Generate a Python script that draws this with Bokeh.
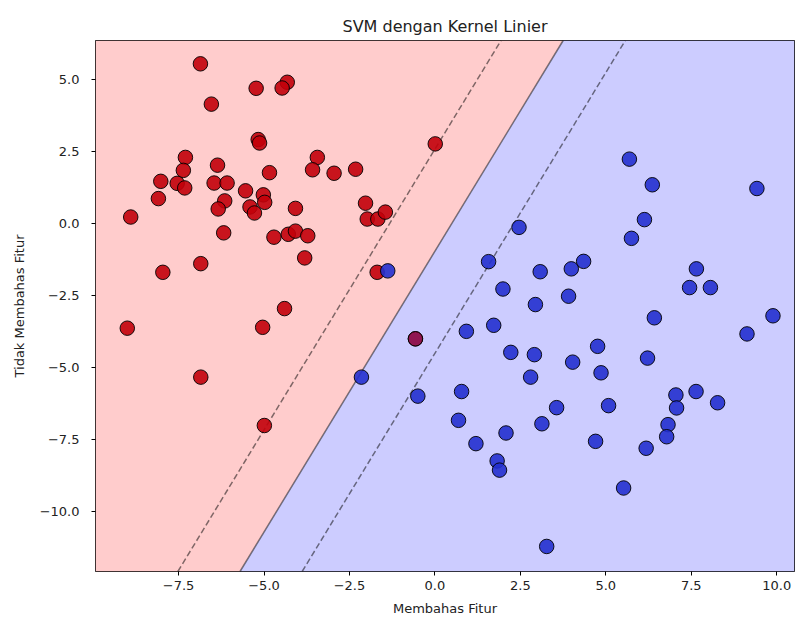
from bokeh.plotting import figure
from bokeh.models import Range1d, FixedTicker, CustomJSTickFormatter
from bokeh.embed import file_html
from bokeh.resources import INLINE

# ---- data ----
red_x = [-6.86, -5.23, -4.32, -4.47, -6.54, -5.17, -5.13, 0.01, -7.30, -3.44,
         -7.36, -6.36, -3.58, -2.95, -2.32, -4.84, -8.02, -7.54, -7.32, -6.46,
         -6.08, -8.09, -5.54, -5.02, -4.98, -6.15, -6.34, -5.41, -5.28, -4.08,
         -8.90, -2.03, -1.98, -1.67, -1.45, -6.18, -4.71, -4.29, -4.08, -3.72,
         -3.81, -7.96, -6.85, -1.69, -4.40, -9.00, -5.04, -6.85, -4.99, -0.57]
red_y = [5.53, 4.68, 4.89, 4.69, 4.13, 2.90, 2.78, 2.75, 2.28, 2.28,
         1.83, 2.01, 1.85, 1.73, 1.87, 1.75, 1.45, 1.38, 1.22, 1.39,
         1.39, 0.85, 1.12, 0.98, 0.72, 0.77, 0.49, 0.56, 0.35, 0.51,
         0.21, 0.69, 0.14, 0.14, 0.38, -0.34, -0.49, -0.39, -0.28, -0.44,
         -1.21, -1.71, -1.41, -1.71, -2.97, -3.65, -3.62, -5.35, -7.03, -4.02]

blue_x = [-0.57, 5.69, 6.36, 9.42, 6.13, 5.75, 2.46, 1.57, 4.35, 3.99, 3.08,
          1.99, 7.65, 7.45, 8.06, 3.91, 2.94, 9.89, 9.13, 6.42, 0.92,
          1.72, 2.22, 2.91, 4.03, 4.76, 4.86, 6.22, 2.80, 0.78, 0.69,
          1.20, 2.08, 1.82, 1.89, 3.13, 3.56, 5.08, 4.70, 6.18, 5.52,
          3.27, 7.05, 7.07, 7.64, 8.27, 6.82, 6.78, -2.15, -0.50, -1.38]
blue_y = [-4.02, 2.22, 1.33, 1.20, 0.12, -0.53, -0.15, -1.34, -1.33, -1.59, -1.69,
          -2.29, -1.59, -2.24, -2.24, -2.54, -2.83, -3.22, -3.85, -3.29, -3.76,
          -3.55, -4.49, -4.57, -4.83, -4.28, -5.20, -4.69, -5.35, -5.85, -6.85,
          -7.66, -7.29, -8.26, -8.58, -6.97, -6.41, -6.34, -7.58, -7.82, -9.20,
          -11.23, -5.97, -6.42, -5.85, -6.24, -7.00, -7.42, -5.35, -6.01, -1.66]

# linear SVM decision function: coef[0]*x + coef[1]*y + intercept
coef = [0.55, -0.282]
intercept = -0.276
levels = [-1.0, 0.0, 1.0]
level_dash = ["6 3", "solid", "6 3"]

x_lim = [-9.93, 10.52]
y_lim = [-12.10, 6.34]
x_ticks = [-7.5, -5.0, -2.5, 0.0, 2.5, 5.0, 7.5, 10.0]
y_ticks = [-10.0, -7.5, -5.0, -2.5, 0.0, 2.5, 5.0]


def x_on_level(level, y):
    return (level - intercept - coef[1] * y) / coef[0]


FONT = "DejaVu Sans"

p = figure(width=795, height=621, output_backend="svg", toolbar_location=None,
           x_range=Range1d(x_lim[0], x_lim[1]), y_range=Range1d(y_lim[0], y_lim[1]),
           min_border_left=95, min_border_right=1, min_border_top=40, min_border_bottom=50,
           title="SVM dengan Kernel Linier")
p.background_fill_color = "white"
p.border_fill_color = "white"
p.grid.visible = False
p.outline_line_color = "black"
p.outline_line_alpha = 1.0
p.outline_line_width = 1

# background regions
xb0 = x_on_level(0.0, y_lim[0])
xb1 = x_on_level(0.0, y_lim[1])
p.patch([x_lim[0], xb0, xb1, x_lim[0]], [y_lim[0], y_lim[0], y_lim[1], y_lim[1]],
        fill_color="#FFCCCC", line_color=None)
p.patch([xb0, x_lim[1], x_lim[1], xb1], [y_lim[0], y_lim[0], y_lim[1], y_lim[1]],
        fill_color="#CCCCFF", line_color=None)

# decision boundary and margins
for lev, dash in zip(levels, level_dash):
    p.line([x_on_level(lev, y_lim[0]), x_on_level(lev, y_lim[1])], [y_lim[0], y_lim[1]],
           line_color="black", line_alpha=0.5, line_width=1.5, line_dash=dash)

# points: the first blue point lies under a red one
p.scatter(blue_x[:1], blue_y[:1], size=14.5, fill_color="#2430CF", fill_alpha=0.9,
          line_color="black", line_alpha=0.9, line_width=1)
p.scatter(red_x[:-1], red_y[:-1], size=14.5, fill_color="#C2000A", fill_alpha=0.9,
          line_color="black", line_alpha=0.9, line_width=1)
p.scatter(red_x[-1:], red_y[-1:], size=14.5, fill_color="#C2000A", fill_alpha=0.65,
          line_color="black", line_alpha=0.9, line_width=1)
p.scatter(blue_x[1:], blue_y[1:], size=14.5, fill_color="#2430CF", fill_alpha=0.9,
          line_color="black", line_alpha=0.9, line_width=1)

fmt = CustomJSTickFormatter(code="return tick.toFixed(1).replace('-', '\u2212');")
for ax, ticks, label in ((p.xaxis[0], x_ticks, "Membahas Fitur"),
                         (p.yaxis[0], y_ticks, "Tidak Membahas Fitur")):
    ax.ticker = FixedTicker(ticks=ticks)
    ax.formatter = fmt
    ax.axis_label = label
    ax.axis_line_color = None
    ax.major_tick_in = 0
    ax.major_tick_out = 4
    ax.minor_tick_line_color = None
    ax.major_tick_line_color = "black"
    ax.major_label_text_font = FONT
    ax.major_label_text_font_size = "13px"
    ax.major_label_text_color = "#222222"
    ax.axis_label_text_font = FONT
    ax.axis_label_text_font_size = "13px"
    ax.axis_label_text_font_style = "normal"
    ax.axis_label_text_color = "#222222"

p.xaxis[0].major_label_standoff = 5
p.xaxis[0].axis_label_standoff = 8
p.yaxis[0].major_label_standoff = 12
p.yaxis[0].axis_label_standoff = 10

p.title.text_font = FONT
p.title.text_font_size = "16px"
p.title.text_font_style = "normal"
p.title.align = "center"
p.title.text_color = "#222222"

open("out.html", "w").write(file_html(p, INLINE))
